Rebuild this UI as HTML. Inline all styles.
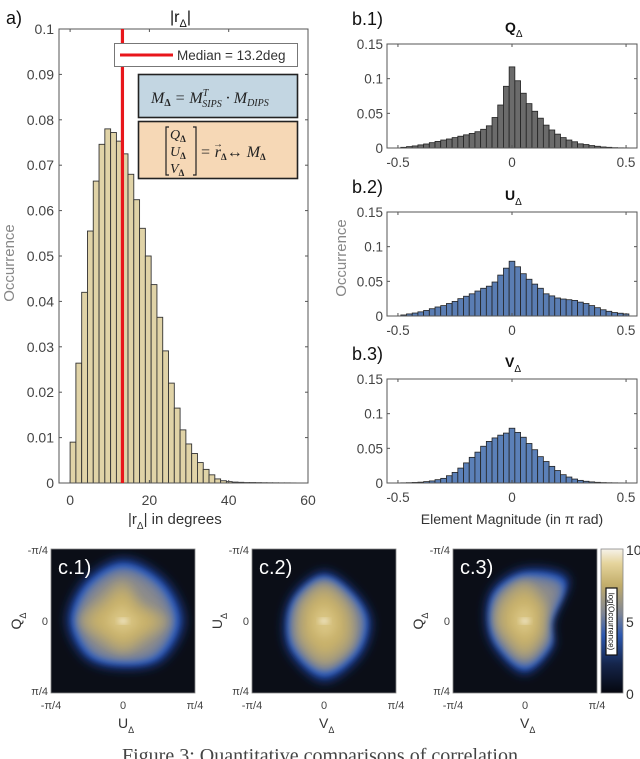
<!DOCTYPE html>
<html><head><meta charset="utf-8"><style>
html,body{margin:0;padding:0;background:#fff;}
svg{display:block;}
text{font-family:"Liberation Sans",sans-serif;}
</style></head><body>
<svg id="fig" width="640" height="759" viewBox="0 0 640 759" xmlns="http://www.w3.org/2000/svg">
<defs>
<filter id="b3" x="-30%" y="-30%" width="160%" height="160%"><feGaussianBlur stdDeviation="3"/></filter>
<filter id="b5" x="-30%" y="-30%" width="160%" height="160%"><feGaussianBlur stdDeviation="5"/></filter>
<filter id="b7" x="-30%" y="-30%" width="160%" height="160%"><feGaussianBlur stdDeviation="7"/></filter>
<linearGradient id="cbar" x1="0" y1="1" x2="0" y2="0">
<stop offset="0" stop-color="#05070f"/><stop offset="0.2" stop-color="#15254a"/><stop offset="0.4" stop-color="#2c58b0"/><stop offset="0.55" stop-color="#7e8596"/><stop offset="0.75" stop-color="#c2ad6a"/><stop offset="0.9" stop-color="#e5d49c"/><stop offset="1" stop-color="#f6f2ea"/>
</linearGradient>
<clipPath id="cp1"><rect x="51" y="549" width="144" height="144"/></clipPath>
<clipPath id="cp2"><rect x="252" y="549" width="144" height="144"/></clipPath>
<clipPath id="cp3"><rect x="453" y="549" width="144" height="144"/></clipPath>
</defs>
<g id="pa"></g>
<g id="pb"></g>
<g id="pc"></g>
<text x="320" y="762" text-anchor="middle" font-size="20" fill="#444" style="font-family:'Liberation Serif',serif">Figure 3: Quantitative comparisons of correlation</text>
</svg>
<script>
// ---- Panel a data ----
const aBinWidth = 1.46;
const aValues = [0.009,0.0264,0.042,0.0555,0.0665,0.0746,0.078,0.0772,0.0753,0.0725,0.068,0.0624,0.0561,0.050,0.0437,0.0365,0.0291,0.022,0.0165,0.0117,0.0086,0.0065,0.0045,0.003,0.0018,0.0009,0.0005,0.0003,0.0002,0.00015,0.0001,0.0001,0.00008,0.00006,0.00005,0.00004,0.00003,0.00003,0.00002];
const aYTicks = [0,0.01,0.02,0.03,0.04,0.05,0.06,0.07,0.08,0.09,0.1];
const aYTickLabels = ["0","0.01","0.02","0.03","0.04","0.05","0.06","0.07","0.08","0.09","0.1"];
const aXTicks = [0,20,40,60];
const aMedian = 13.2;
// ---- Panel b data ----
const bCenters = [-0.475,-0.45,-0.425,-0.4,-0.375,-0.35,-0.325,-0.3,-0.275,-0.25,-0.225,-0.2,-0.175,-0.15,-0.125,-0.1,-0.075,-0.05,-0.025,0,0.025,0.05,0.075,0.1,0.125,0.15,0.175,0.2,0.225,0.25,0.275,0.3,0.325,0.35,0.375,0.4,0.425,0.45,0.475,0.5];
const qValues = [0.001,0.002,0.003,0.0045,0.0058,0.0077,0.0095,0.0115,0.013,0.015,0.017,0.019,0.021,0.0235,0.027,0.032,0.044,0.062,0.089,0.117,0.097,0.079,0.064,0.053,0.043,0.033,0.026,0.02,0.015,0.0115,0.009,0.006,0.005,0.0035,0.0025,0.0015,0.001,0.0005,0.0003,0.0002];
const uValues = [0.0015,0.003,0.0043,0.006,0.008,0.0105,0.013,0.015,0.018,0.021,0.025,0.0285,0.032,0.036,0.04,0.043,0.049,0.059,0.069,0.079,0.071,0.061,0.053,0.046,0.04,0.032,0.029,0.026,0.0245,0.0235,0.0225,0.02,0.018,0.015,0.012,0.009,0.0068,0.005,0.004,0.003];
const vValues = [0.0003,0.0005,0.0008,0.0012,0.002,0.003,0.0048,0.0067,0.0105,0.0153,0.0215,0.029,0.037,0.0445,0.053,0.06,0.065,0.069,0.072,0.079,0.073,0.066,0.057,0.048,0.038,0.031,0.024,0.018,0.012,0.0086,0.0057,0.0038,0.0025,0.0016,0.001,0.0006,0.0004,0.0003,0.0002,0.0001];
const bYTicks = [0,0.05,0.1,0.15];
const bYTickLabels = ["0","0.05","0.1","0.15"];
const bXTicks = [-0.5,0,0.5];
const bXTickLabels = ["-0.5","0","0.5"];
// ---- Panel c data: contour radii (fraction of pi/4) at 8 directions: right, down-right, down, down-left, left, up-left, up, up-right ----
const c1Outer = [0.83,0.76,0.65,0.72,0.76,0.76,0.85,0.8];
const c1Inner = [0.62,0.42,0.45,0.42,0.6,0.45,0.56,0.38];
const c2Outer = [0.64,0.69,0.82,0.64,0.54,0.56,0.67,0.58];
const c2Inner = [0.42,0.52,0.62,0.46,0.38,0.42,0.52,0.42];
const c3Outer = [0.39,0.53,0.72,0.56,0.53,0.62,0.71,0.83];
const c3Inner = [0.3,0.36,0.52,0.39,0.42,0.46,0.55,0.4];
const cbTicks = [0,5,10];

const NS="http://www.w3.org/2000/svg";
function mk(parent,tag,attrs,txt){const e=document.createElementNS(NS,tag);for(const k in attrs)e.setAttribute(k,attrs[k]);if(txt!==undefined)e.textContent=txt;parent.appendChild(e);return e;}

// ===== Panel a =====
(function(){
const g=document.getElementById('pa');
const L=59,R=308,T=29,B=483,xmin=-2.8,xmax=60;
const sx=v=>L+(v-xmin)/(xmax-xmin)*(R-L);
const sy=v=>B-v/0.1*(B-T);
aValues.forEach((v,i)=>{
 const x0=sx(i*aBinWidth),x1=sx((i+1)*aBinWidth);
 const r=mk(g,'rect',{x:x0,y:sy(v),width:x1-x0,height:B-sy(v),fill:'#e0d3a7',stroke:'#333','stroke-width':0.9});
 
 
});
const box=mk(g,'rect',{x:L,y:T,width:R-L,height:B-T,fill:'none',stroke:'#555','stroke-width':1});


aYTicks.forEach((v,i)=>{
 mk(g,'line',{x1:L,x2:L+3,y1:sy(v),y2:sy(v),stroke:'#555'});
 mk(g,'line',{x1:R,x2:R-3,y1:sy(v),y2:sy(v),stroke:'#555'});
 const t=mk(g,'text',{x:L-5,y:sy(v)+5,'text-anchor':'end','font-size':14,fill:'#444'},aYTickLabels[i]);
 
 
});
aXTicks.forEach(v=>{
 mk(g,'line',{x1:sx(v),x2:sx(v),y1:B,y2:B-3,stroke:'#555'});
 mk(g,'line',{x1:sx(v),x2:sx(v),y1:T,y2:T+3,stroke:'#555'});
 const t=mk(g,'text',{x:sx(v),y:505,'text-anchor':'middle','font-size':14,fill:'#444'},String(v));
 
 
});
const ml=mk(g,'line',{x1:sx(aMedian),x2:sx(aMedian),y1:T,y2:B,stroke:'#e8161b','stroke-width':3.2});


// legend
const lg=mk(g,'g',{});


mk(lg,'rect',{x:114.5,y:43.5,width:183,height:23,fill:'#fff',stroke:'#777','stroke-width':1});
mk(lg,'line',{x1:120,x2:173,y1:55,y2:55,stroke:'#e8161b','stroke-width':3});
mk(lg,'text',{x:177,y:60,'font-size':13.5,fill:'#333'},'Median = 13.2deg');
// formula boxes
const f1=mk(g,'g',{});


mk(f1,'rect',{x:138.5,y:74.5,width:159,height:43,fill:'#c3d6e2',stroke:'#222','stroke-width':1.6});
const ft=mk(f1,'text',{x:151,y:103,'font-size':16,fill:'#222',style:"font-family:'Liberation Serif',serif;font-style:italic"});
ft.innerHTML='M<tspan font-size="10" dy="3" font-style="normal" font-weight="bold">Δ</tspan><tspan dy="-3"> = M</tspan><tspan font-size="10" dy="-7">T</tspan><tspan font-size="10" dx="-6" dy="11">SIPS</tspan><tspan dy="-4">  · M</tspan><tspan font-size="10" dy="3">DIPS</tspan>';
const f2=mk(g,'g',{});


mk(f2,'rect',{x:138.5,y:121.5,width:159,height:57,fill:'#f6d8b6',stroke:'#222','stroke-width':1.6});
mk(f2,'path',{d:'M169 127 h-3 v48 h3 M193 127 h3 v48 h-3',fill:'none',stroke:'#222','stroke-width':1.2});
[['Q',140],['U',157],['V',174]].forEach(([s,y])=>{
 const t=mk(f2,'text',{x:170,y:y-1,'font-size':14,fill:'#222',style:"font-family:'Liberation Serif',serif;font-style:italic"});
 t.innerHTML=s+'<tspan font-size="9" dy="3" font-style="normal" font-weight="bold">Δ</tspan>';
});
const t2=mk(f2,'text',{x:200,y:157,'font-size':16,fill:'#222',style:"font-family:'Liberation Serif',serif;font-style:italic"});
t2.innerHTML='= r<tspan font-size="9" dy="3" font-style="normal" font-weight="bold">Δ</tspan><tspan dy="-3" font-style="normal">↔ </tspan>M<tspan font-size="9" dy="3" font-style="normal" font-weight="bold">Δ</tspan>';
mk(f2,'text',{x:213,y:147,'font-size':10,fill:'#222'},'→');
// titles
const tt=mk(g,'text',{x:170,y:22,'font-size':16,fill:'#111'});
tt.innerHTML='|r<tspan font-size="11" dy="5">Δ</tspan><tspan dy="-5">|</tspan>';


const pl=mk(g,'text',{x:6,y:24,'font-size':18,fill:'#111'},'a)');


const yl=mk(g,'text',{x:0,y:0,'font-size':15,fill:'#888','text-anchor':'middle',transform:'translate(14,263) rotate(-90)'},'Occurrence');


const xl=mk(g,'text',{x:128,y:524,'font-size':15,fill:'#333'});
xl.innerHTML='|r<tspan font-size="10" dy="5">Δ</tspan><tspan dy="-5">| in degrees</tspan>';


})();

// ===== Panel b =====
(function(){
const g=document.getElementById('pb');
const L=387,R=637,xmin=-0.548,xmax=0.548,bw=0.025;
const panels=[
 {vals:qValues,T:44,B:148,fill:'#6b6b6b',title:'Q',lab:'b.1)',name:'q'},
 {vals:uValues,T:212,B:316,fill:'#5a7db3',title:'U',lab:'b.2)',name:'u'},
 {vals:vValues,T:379,B:483,fill:'#5b80b8',title:'V',lab:'b.3)',name:'v'}];
const sx=v=>L+(v-xmin)/(xmax-xmin)*(R-L);
panels.forEach(p=>{
 const sy=v=>p.B-v/0.15*(p.B-p.T);
 p.vals.forEach((v,i)=>{
  const x0=sx(bCenters[i]-bw/2),x1=sx(bCenters[i]+bw/2);
  const r=mk(g,'rect',{x:x0,y:sy(v),width:x1-x0,height:p.B-sy(v),fill:p.fill,stroke:'#222','stroke-width':0.8});
  
  
 });
 const bx=mk(g,'rect',{x:L,y:p.T,width:R-L,height:p.B-p.T,fill:'none',stroke:'#555'});
 
 
 bYTicks.forEach((v,i)=>{
  mk(g,'line',{x1:L,x2:L+3,y1:sy(v),y2:sy(v),stroke:'#555'});
  mk(g,'line',{x1:R,x2:R-3,y1:sy(v),y2:sy(v),stroke:'#555'});
  const t=mk(g,'text',{x:L-4,y:sy(v)+5,'text-anchor':'end','font-size':13.5,fill:'#444'},bYTickLabels[i]);
  
  
 });
 bXTicks.forEach((v,i)=>{
  mk(g,'line',{x1:sx(v),x2:sx(v),y1:p.B,y2:p.B-3,stroke:'#555'});
  mk(g,'line',{x1:sx(v),x2:sx(v),y1:p.T,y2:p.T+3,stroke:'#555'});
  const t=mk(g,'text',{x:sx(v),y:p.B+19,'text-anchor':'middle','font-size':13.5,fill:'#444'},bXTickLabels[i]);
  
  
 });
 const tt=mk(g,'text',{x:505,y:p.T-12,'font-size':14,'font-weight':'bold',fill:'#111'});
 tt.innerHTML=p.title+'<tspan font-size="10" font-weight="normal" dy="5">Δ</tspan>';
 
 
 const pl=mk(g,'text',{x:352,y:p.T-19,'font-size':18,fill:'#111'},p.lab);
 
 
});
const yl=mk(g,'text',{x:0,y:0,'font-size':15,fill:'#888','text-anchor':'middle',transform:'translate(346,258) rotate(-90)'},'Occurrence');


const xl=mk(g,'text',{x:512,y:524,'font-size':14,fill:'#333','text-anchor':'middle'},'Element Magnitude (in π rad)');


})();

// ===== Panel c =====
(function(){
const g=document.getElementById('pc');
const S=72; // px per pi/4
function shapePath(cx,cy,radii,scale){
 const pts=radii.map((r,i)=>{const a=i*Math.PI/4;return [cx+Math.cos(a)*r*S*scale,cy+Math.sin(a)*r*S*scale];});
 const n=pts.length;let d='M'+pts[0][0].toFixed(1)+' '+pts[0][1].toFixed(1);
 for(let i=0;i<n;i++){
  const p0=pts[(i-1+n)%n],p1=pts[i],p2=pts[(i+1)%n],p3=pts[(i+2)%n];
  const c1=[p1[0]+(p2[0]-p0[0])/6,p1[1]+(p2[1]-p0[1])/6];
  const c2=[p2[0]-(p3[0]-p1[0])/6,p2[1]-(p3[1]-p1[1])/6];
  d+=' C'+c1.map(v=>v.toFixed(1)).join(' ')+' '+c2.map(v=>v.toFixed(1)).join(' ')+' '+p2[0].toFixed(1)+' '+p2[1].toFixed(1);
 }
 return d+'Z';
}
const cps=[
 {L:51,outer:c1Outer,inner:c1Inner,lab:'c.1)',yl:'Q',xl:'U',clip:'cp1',name:'c1'},
 {L:252,outer:c2Outer,inner:c2Inner,lab:'c.2)',yl:'U',xl:'V',clip:'cp2',name:'c2'},
 {L:453,outer:c3Outer,inner:c3Inner,lab:'c.3)',yl:'Q',xl:'V',clip:'cp3',name:'c3'}];
const T=549,W=144;
cps.forEach(p=>{
 const cx=p.L+W/2,cy=T+W/2;
 const hg=mk(g,'g',{'clip-path':'url(#'+p.clip+')'});
 
 
 mk(hg,'rect',{x:p.L,y:T,width:W,height:W,fill:'#0b0e17'});
 const o1=mk(hg,'path',{d:shapePath(cx,cy,p.outer,1.03),fill:'#1a3a8a',filter:'url(#b5)'});
 
 
 mk(hg,'path',{d:shapePath(cx,cy,p.outer,0.94),fill:'#2c5bbd',filter:'url(#b3)'});
 mk(hg,'path',{d:shapePath(cx,cy,p.outer,0.86),fill:'#5d73a6',filter:'url(#b3)'});
 mk(hg,'path',{d:shapePath(cx,cy,p.outer,0.78),fill:'#8a8a8c',filter:'url(#b5)'});
 const i1=mk(hg,'path',{d:shapePath(cx,cy,p.inner,1.0),fill:'#ab9f78',filter:'url(#b5)'});
 
 
 mk(hg,'path',{d:shapePath(cx,cy,p.inner,0.75),fill:'#c8b16a',filter:'url(#b5)'});
 mk(hg,'path',{d:shapePath(cx,cy,p.inner,0.38),fill:'#d9c583',filter:'url(#b5)'});
 mk(hg,'ellipse',{cx:cx,cy:cy,rx:5,ry:2.5,fill:'#f4ecd4',filter:'url(#b3)'});
 mk(g,'rect',{x:p.L,y:T,width:W,height:W,fill:'none',stroke:'#888','stroke-width':0.8});
 const pl=mk(g,'text',{x:p.L+7,y:T+25,'font-size':20,fill:'#fff'},p.lab);
 
 
 [['-π/4',T+5],['0',cy+4],['π/4',T+W+2]].forEach(([s,y])=>{
  const t=mk(g,'text',{x:p.L-3,y:y,'text-anchor':'end','font-size':11,fill:'#444'},s);
  
  
 });
 [['-π/4',p.L],['0',cx],['π/4',p.L+W]].forEach(([s,x])=>{
  const t=mk(g,'text',{x:x,y:709,'text-anchor':'middle','font-size':11,fill:'#444'},s);
  
  
 });
 const yt=mk(g,'text',{x:0,y:0,'text-anchor':'middle','font-size':14,fill:'#333',transform:'translate('+(p.L-30)+','+cy+') rotate(-90)'});
 yt.innerHTML=p.yl+'<tspan font-size="9" dy="5">Δ</tspan>';
 
 
 const xt=mk(g,'text',{x:cx-5,y:728,'font-size':14,fill:'#333'});
 xt.innerHTML=p.xl+'<tspan font-size="9" dy="5">Δ</tspan>';
 
 
});
// colorbar
const cb=mk(g,'g',{});


mk(cb,'rect',{x:601,y:T,width:22,height:W,fill:'url(#cbar)',stroke:'#888','stroke-width':0.8});
cbTicks.forEach(v=>{
 const y=T+W-v/10*W;
 const t=mk(cb,'text',{x:626,y:y+6,'font-size':14,fill:'#333'},String(v));
 
 
});
mk(cb,'rect',{x:606,y:588,width:11,height:67,fill:'#fff',stroke:'#111','stroke-width':1.2});
const cl=mk(cb,'text',{x:0,y:0,'font-size':8,fill:'#111','text-anchor':'middle',transform:'translate(608.5,621.5) rotate(90)'},'log(Occurrence)');


})();
</script>
</body></html>
